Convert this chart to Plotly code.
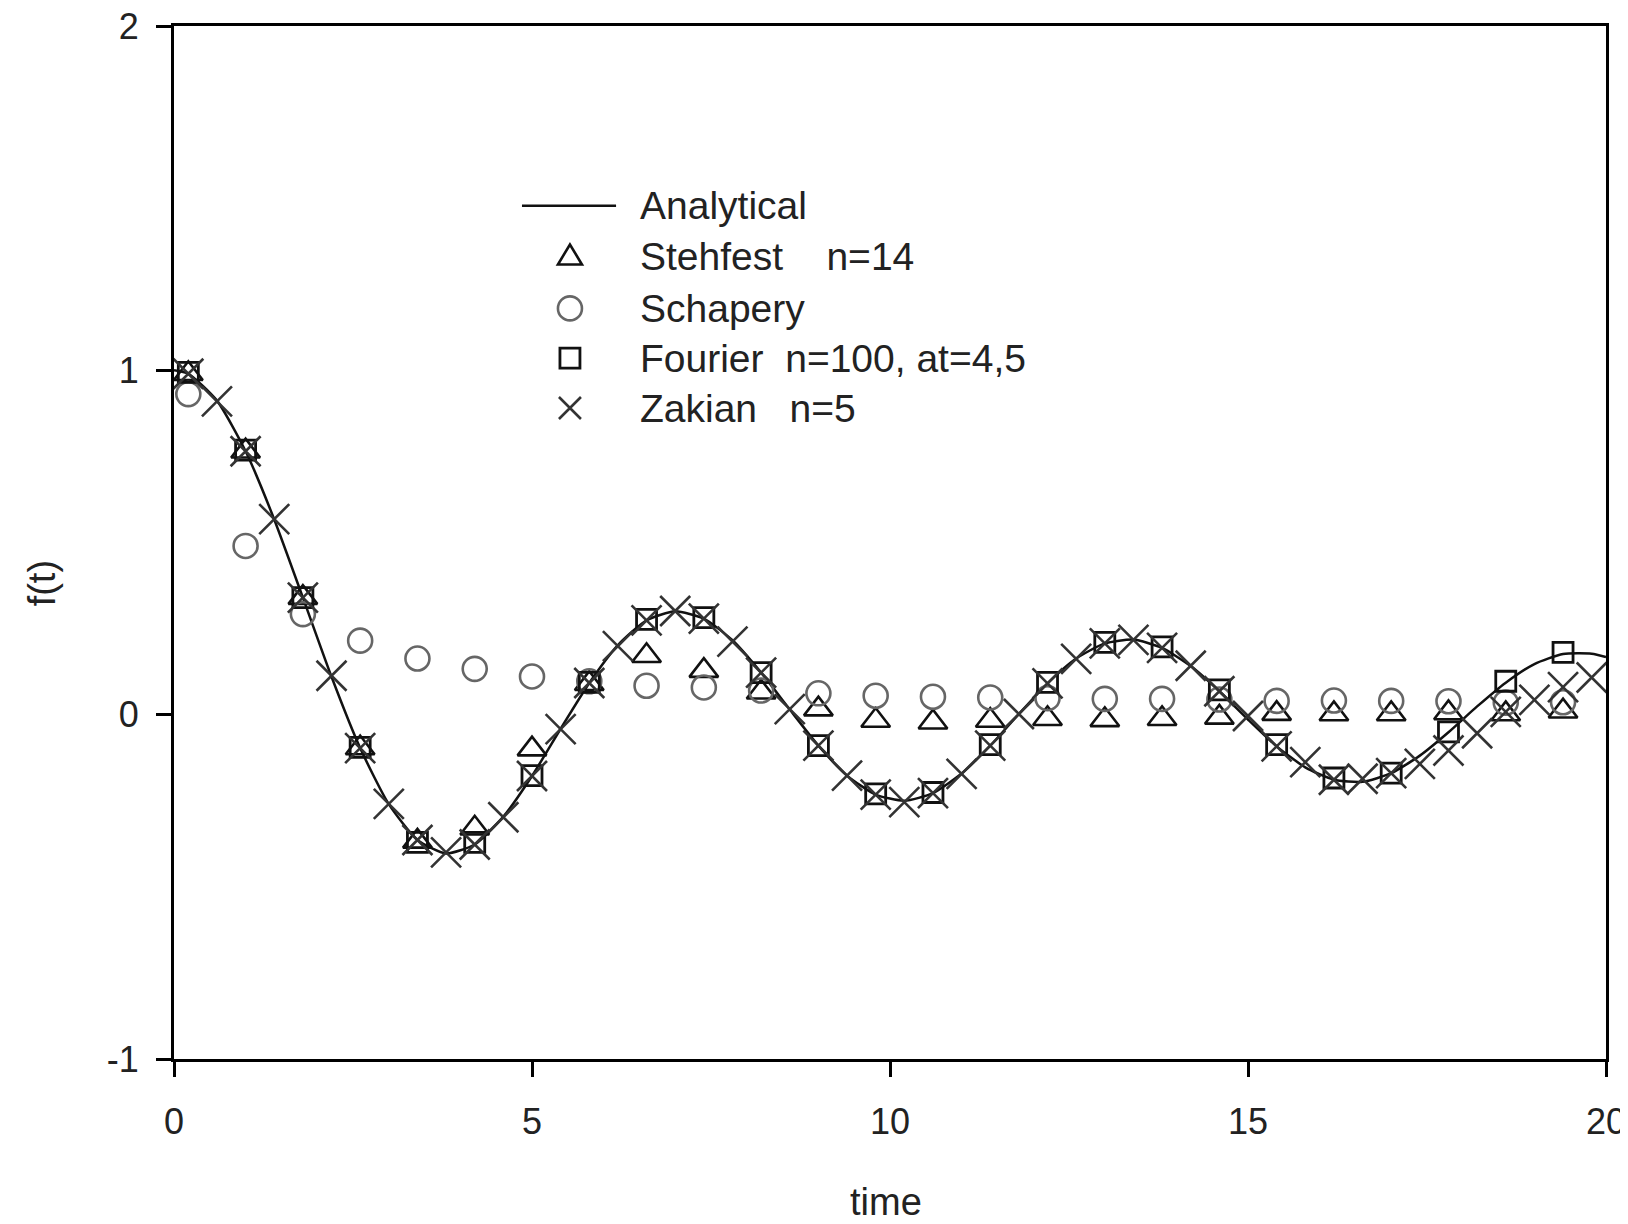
import plotly.graph_objects as go

# ---------------- data ----------------
t_analytical = [0.0, 0.2, 0.6, 1.0, 1.4, 1.8, 2.2, 2.6, 3.0, 3.4, 3.8, 4.2, 4.6, 5.0, 5.4,
                5.8, 6.2, 6.6, 7.0, 7.4, 7.8, 8.2, 8.6, 9.0, 9.4, 9.8, 10.2, 10.6, 11.0,
                11.4, 11.8, 12.2, 12.6, 13.0, 13.4, 13.8, 14.2, 14.6, 15.0, 15.4, 15.8,
                16.2, 16.6, 17.0, 17.4, 17.8, 18.2, 18.6, 19.0, 19.4, 19.8, 20.0]
f_analytical = [1.000, 0.990, 0.912, 0.765, 0.567, 0.340, 0.110, -0.097, -0.260, -0.364,
                -0.403, -0.377, -0.296, -0.178, -0.041, 0.092, 0.202, 0.274, 0.300, 0.279,
                0.216, 0.122, 0.015, -0.090, -0.177, -0.232, -0.250, -0.228, -0.171, -0.090,
                0.002, 0.091, 0.163, 0.207, 0.218, 0.194, 0.141, 0.068, -0.014, -0.092,
                -0.153, -0.189, -0.195, -0.170, -0.119, -0.051, 0.024, 0.093, 0.147, 0.176,
                0.177, 0.167]

t_methods = [0.2, 1.0, 1.8, 2.6, 3.4, 4.2, 5.0, 5.8, 6.6, 7.4, 8.2, 9.0, 9.8, 10.6, 11.4,
             12.2, 13.0, 13.8, 14.6, 15.4, 16.2, 17.0, 17.8, 18.6, 19.4]
f_stehfest = [0.990, 0.765, 0.340, -0.097, -0.368, -0.330, -0.100, 0.090, 0.171, 0.128,
              0.065, 0.016, -0.017, -0.022, -0.017, -0.012, -0.015, -0.012, -0.008, 0.003,
              0.002, 0.002, 0.005, 0.002, 0.010]
f_schapery = [0.931, 0.490, 0.292, 0.215, 0.163, 0.133, 0.111, 0.097, 0.084, 0.079,
              0.070, 0.062, 0.055, 0.052, 0.050, 0.048, 0.046, 0.046, 0.044, 0.040,
              0.041, 0.040, 0.039, 0.035, 0.036]
f_fourier = [0.994, 0.768, 0.340, -0.095, -0.371, -0.371, -0.177, 0.094, 0.277, 0.282,
             0.122, -0.090, -0.230, -0.226, -0.087, 0.094, 0.210, 0.197, 0.072, -0.087,
             -0.184, -0.170, -0.050, 0.097, 0.181]

t_zakian = [0.2, 0.6, 1.0, 1.4, 1.8, 2.2, 2.6, 3.0, 3.4, 3.8, 4.2, 4.6, 5.0, 5.4, 5.8,
            6.2, 6.6, 7.0, 7.4, 7.8, 8.2, 8.6, 9.0, 9.4, 9.8, 10.2, 10.6, 11.0, 11.4,
            11.8, 12.2, 12.6, 13.0, 13.4, 13.8, 14.2, 14.6, 15.0, 15.4, 15.8, 16.2,
            16.6, 17.0, 17.4, 17.8, 18.2, 18.6, 19.0, 19.4, 19.8]
f_zakian = [0.990, 0.910, 0.765, 0.568, 0.340, 0.113, -0.097, -0.259, -0.364, -0.400,
            -0.377, -0.298, -0.178, -0.042, 0.092, 0.199, 0.274, 0.301, 0.279, 0.212,
            0.122, 0.016, -0.090, -0.177, -0.232, -0.254, -0.228, -0.172, -0.090, 0.002,
            0.091, 0.162, 0.207, 0.217, 0.194, 0.142, 0.068, -0.004, -0.092, -0.138,
            -0.189, -0.186, -0.170, -0.143, -0.104, -0.054, 0.008, 0.043, 0.080, 0.108]

x_ticks = [0, 5, 10, 15, 20]
y_ticks = [-1, 0, 1, 2]
y_tick_text = ["-1", "0", "1", "2"]

names = ["Analytical",
         "Stehfest\u00a0\u00a0\u00a0\u00a0n=14",
         "Schapery",
         "Fourier\u00a0\u00a0n=100, at=4,5",
         "Zakian\u00a0\u00a0\u00a0n=5"]

FONT = "Liberation Sans, Arial, sans-serif"
BLACK = "#111111"
GREY = "#666666"
XGREY = "#333333"

fig = go.Figure()
fig.add_trace(go.Scatter(x=t_analytical, y=f_analytical, mode="lines", name=names[0],
                         line=dict(color=BLACK, width=2.5, shape="spline", smoothing=0.6)))
fig.add_trace(go.Scatter(x=t_methods, y=f_stehfest, mode="markers", name=names[1],
                         marker=dict(symbol="triangle-up-open", size=25, color=BLACK,
                                     line=dict(width=2.6, color=BLACK))))
fig.add_trace(go.Scatter(x=t_methods, y=f_schapery, mode="markers", name=names[2],
                         marker=dict(symbol="circle-open", size=24, color=GREY,
                                     line=dict(width=2.6, color=GREY))))
fig.add_trace(go.Scatter(x=t_methods, y=f_fourier, mode="markers", name=names[3],
                         marker=dict(symbol="square-open", size=20, color=BLACK,
                                     line=dict(width=2.8, color=BLACK))))
fig.add_trace(go.Scatter(x=t_zakian, y=f_zakian, mode="markers", name=names[4],
                         marker=dict(symbol="x-thin-open", size=30, color=XGREY,
                                     line=dict(width=2.6, color=XGREY))))

axis_common = dict(showline=True, linewidth=3, linecolor="black", mirror=True,
                   ticks="outside", ticklen=15, tickwidth=2.5, tickcolor="black",
                   showgrid=False, zeroline=False, automargin=False,
                   ticklabeloverflow="allow",
                   tickfont=dict(family=FONT, size=36, color="#222222"))

# ---------------- hand-built legend (keeps symbols at full marker size) ----------------
L_LINE_X0, L_LINE_X1 = 0.2430, 0.3087
L_SYM_X = 0.2765
L_TEXT_X = 0.3237
L_ROWS = [0.8261, 0.7769, 0.7266, 0.6784, 0.6302]

shapes = [
    dict(type="line", xref="paper", yref="paper", x0=L_LINE_X0, x1=L_LINE_X1,
         y0=L_ROWS[0], y1=L_ROWS[0], line=dict(color=BLACK, width=2.5)),
    # triangle
    dict(type="path", xref="paper", yref="paper", xsizemode="pixel", ysizemode="pixel",
         xanchor=L_SYM_X, yanchor=L_ROWS[1], path="M-12,-8 L12,-8 L0,12 Z",
         line=dict(color=BLACK, width=2.6)),
    # circle
    dict(type="circle", xref="paper", yref="paper", xsizemode="pixel", ysizemode="pixel",
         xanchor=L_SYM_X, yanchor=L_ROWS[2], x0=-12, x1=12, y0=-12, y1=12,
         line=dict(color=GREY, width=2.6)),
    # square
    dict(type="rect", xref="paper", yref="paper", xsizemode="pixel", ysizemode="pixel",
         xanchor=L_SYM_X, yanchor=L_ROWS[3], x0=-10, x1=10, y0=-10, y1=10,
         line=dict(color=BLACK, width=2.8)),
    # x
    dict(type="path", xref="paper", yref="paper", xsizemode="pixel", ysizemode="pixel",
         xanchor=L_SYM_X, yanchor=L_ROWS[4], path="M-11,-11 L11,11 M-11,11 L11,-11",
         line=dict(color=XGREY, width=2.6)),
]

annotations = [
    dict(text=nm, xref="paper", yref="paper", x=L_TEXT_X, y=yy, xanchor="left",
         yanchor="middle", showarrow=False,
         font=dict(family=FONT, size=39, color="#222222"))
    for nm, yy in zip(names, L_ROWS)
]
annotations += [
    dict(text="time", xref="paper", yref="paper", x=0.497, y=-0.138,
         xanchor="center", yanchor="middle", showarrow=False,
         font=dict(family=FONT, size=38, color="#222222")),
    dict(text="f(t)", xref="paper", yref="paper", x=-0.0925, y=0.46,
         xanchor="center", yanchor="middle", showarrow=False, textangle=-90,
         font=dict(family=FONT, size=38, color="#222222")),
]

# the page body adds an 8px offset, so margins are trimmed on the left/top
fig.update_layout(
    width=1628, height=1224,
    margin=dict(l=166, r=30, t=18, b=173, pad=0, autoexpand=False),
    paper_bgcolor="white", plot_bgcolor="white",
    font=dict(family=FONT, size=36, color="#222222"),
    xaxis=dict(range=[0, 20], tickvals=x_ticks, ticklabelstandoff=14, **axis_common),
    yaxis=dict(range=[-1, 2], tickvals=y_ticks, ticktext=y_tick_text,
               ticklabelstandoff=10, **axis_common),
    showlegend=False,
    shapes=shapes,
    annotations=annotations,
)

fig.write_html("out.html")
